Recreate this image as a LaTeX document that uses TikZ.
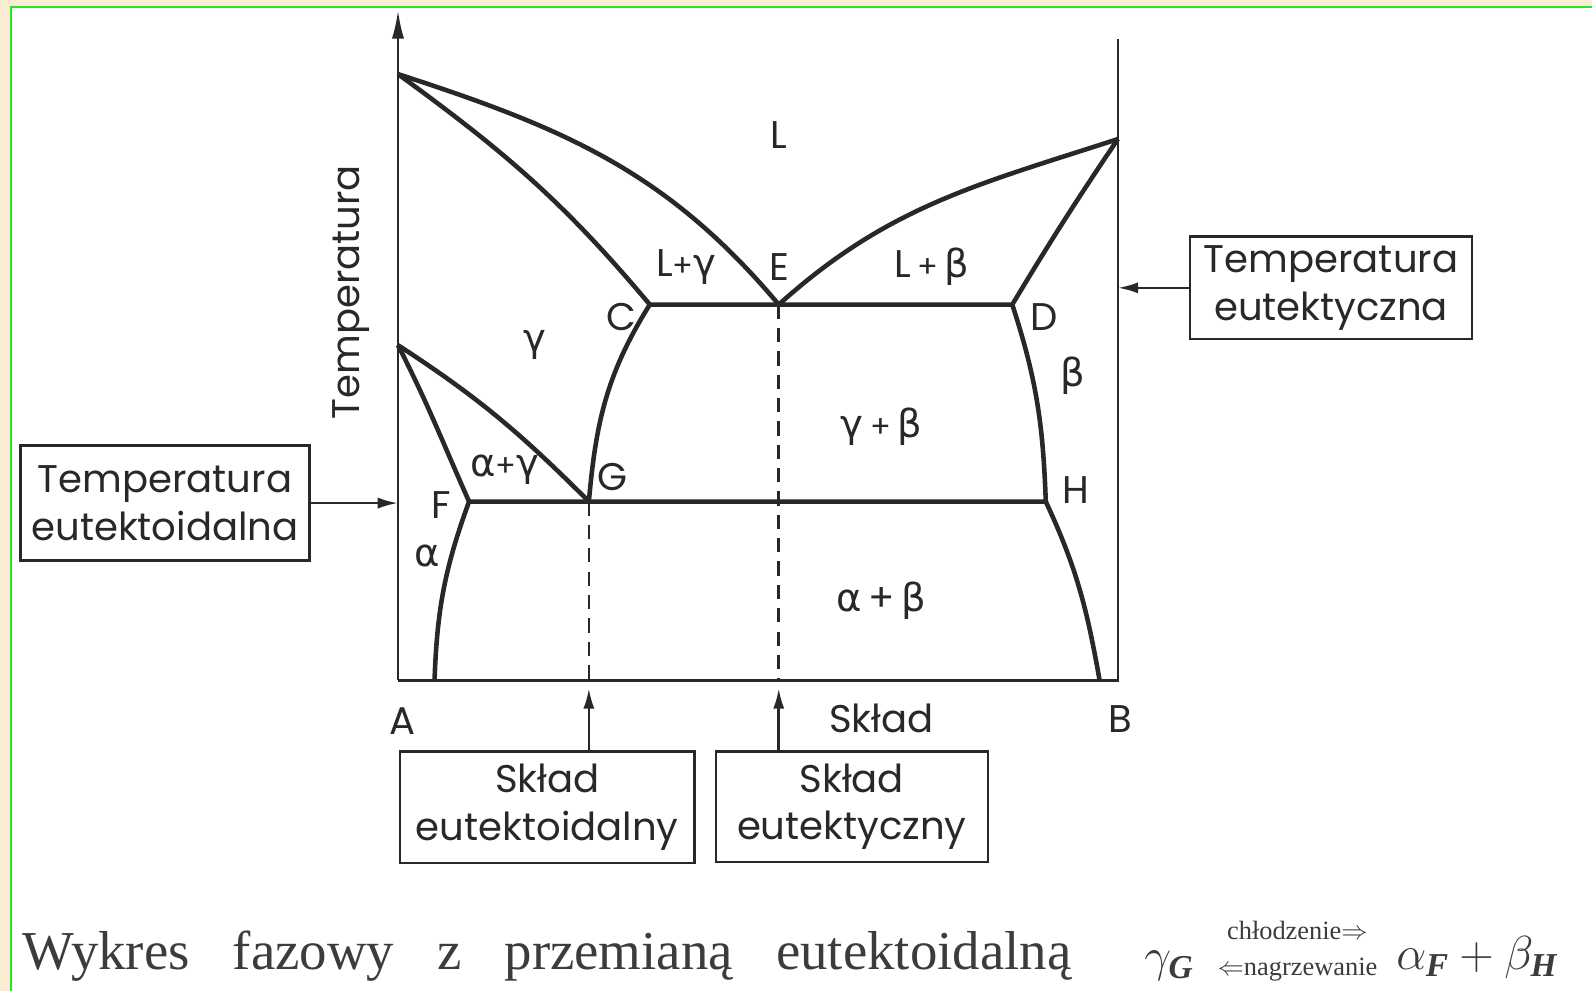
\RequirePackage{fix-cm}
\documentclass[tikz,border=0pt]{standalone}
\usepackage{amsmath}
\usepackage{fontspec}
\setmainfont{Liberation Serif}
\newfontfamily\techfont{Poppins}
\newfontfamily\grkfont{DejaVu Sans}
\usetikzlibrary{positioning,arrows.meta}
\definecolor{cink}{RGB}{40,40,40}
\definecolor{ccap}{RGB}{60,60,60}
\definecolor{cpaper}{RGB}{250,236,212}
\definecolor{cframe}{RGB}{30,235,30}
\newcommand{\gr}[1]{{\grkfont #1}}
\newcommand{\bsub}[1]{\text{\bfseries\itshape #1}}

\begin{document}
\begin{tikzpicture}[x=1pt,y=-1pt,
  font=\techfont\fontsize{38}{47}\selectfont,
  bnd/.style={cink,line width=4.5pt,line join=round},
  ax/.style={cink,line width=2.5pt},
  dsh/.style={cink,line width=2.5pt,dash pattern=on 14pt off 9pt},
  box/.style={draw=cink,line width=2.5pt,text=cink,align=center,inner sep=0pt},
  lab/.style={text=cink,inner sep=0pt},
  a/.style={-{Latex[length=20pt,width=11pt]},cink,line width=2.5pt},
  captext/.style={text=ccap,inner sep=0pt,font=\rmfamily\fontsize{54}{64}\selectfont},
  capmath/.style={text=ccap,inner sep=0pt,font=\rmfamily\fontsize{47}{56}\selectfont},
]
\useasboundingbox (0,0) rectangle (1568,976);
\fill[cpaper] (0,0) rectangle (1568,976);
\fill[white] (11,7) rectangle (1568,976);
\draw[cframe,line width=2.5pt] (11,976) |- (1568,7);

% --- key points of the diagram ---
\coordinate (tA) at (392,73);   \coordinate (tB) at (1101,137);
\coordinate (C) at (640,300);   \coordinate (E) at (767,300);  \coordinate (D) at (997,300);
\coordinate (tAg) at (392,340);
\coordinate (F) at (462,494);   \coordinate (G) at (580,494);  \coordinate (H) at (1030,494);
\coordinate (o) at (392,670);   \coordinate (bB) at (1101,670);
\coordinate (bF) at (428,670);  \coordinate (bH) at (1083,670);
\coordinate (ytop) at (392,10); \coordinate (rtop) at (1101,38);
\coordinate (gx) at (580,678);  \coordinate (ex) at (767,678);

% --- axes ---
\draw[ax] (rtop) -- (bB) -- (o);
\draw[ax,-{Latex[length=28pt,width=12pt]}] (o) -- (ytop);

% --- phase boundaries ---
\draw[bnd] (tA) to[out=-18,in=130] (E) to[out=42,in=198] (tB);
\draw[bnd] (tA) to[out=-36,in=130] (C) -- (D) to[out=59,in=-124] (tB);
\draw[bnd] (C) to[out=-122,in=85] (G);
\draw[bnd] (tAg) to[out=-33,in=135] (G);
\draw[bnd] (tAg) to[out=-63,in=114] (F) -- (H);
\draw[bnd] (F) to[out=-110,in=88] (bF);
\draw[bnd] (D) to[out=-72,in=92] (H) to[out=-65,in=100] (bH);
\draw[dsh] (G) -- (G |- o);
\draw[dsh] (E) -- (E |- o);

% --- phase labels ---
\node[lab] (lL) at (767,133) {L};
\node[lab] (lLg) at (676,263) {L{\fontsize{30}{30}\selectfont+}\gr{γ}};
\node[lab] (lE) at (768,263) {E};
\node[lab] (lLb) at (918,263) {L\,{\fontsize{30}{30}\selectfont+}\,\gr{β}};
\node[lab] (lC) at (612,312) {C};
\node[lab] (lD) at (1028,312) {D};
\node[lab] (lg) at (527,340) {\gr{γ}};
\node[lab] (lb) at (1057,370) {\gr{β}};
\node[lab] (lgb) at (868,420) {\gr{γ}\,{\fontsize{30}{30}\selectfont+}\,\gr{β}};
\node[lab] (lag) at (497,463) {\gr{α}{\fontsize{30}{30}\selectfont+}\gr{γ}};
\node[lab] (lG) at (603,470) {G};
\node[lab] (lF) at (435,497) {F};
\node[lab] (lH) at (1060,483) {H};
\node[lab] (la) at (421,548) {\gr{α}};
\node[lab] (lab) at (868,592) {\gr{α}\,+\,\gr{β}};
\node[lab] (lA) at (396,710) {A};
\node[lab] (lx) at (868,708) {Skład};
\node[lab] (lB) at (1103,708) {B};
\node[lab,rotate=90] (ly) at (346,288) {Temperatura};

% --- boxes with arrows ---
\node[box,minimum width=285pt,minimum height=113pt] (tEd) at (162.5,495.5) {Temperatura\\eutektoidalna};
\node[box,minimum width=278pt,minimum height=101pt] (tEc) at (1311,283.5) {Temperatura\\eutektyczna};
\node[box,minimum width=290pt,minimum height=110pt] (sEd) at (539,795) {Skład\\eutektoidalny};
\node[box,minimum width=268pt,minimum height=109pt] (sEc) at (839,794.5) {Skład\\eutektyczny};
\draw[a] (tEd.east) -- (tEd.east -| o);
\draw[a] (tEc.west) -- (tEc.west -| bB);
\draw[a] (sEd.north -| gx) -- (gx);
\draw[a] (sEc.north -| ex) -- (ex);

% --- caption ---
\node[captext,anchor=base west] (capt) at (22,955) {\makebox[1033pt][s]{Wykres fazowy z przemianą eutektoidalną}};
\node[capmath,anchor=base west] (capg) at (1127,957) {$\gamma_{\bsub{G}}$};
\node[captext,anchor=west,align=center,font=\rmfamily\fontsize{26}{35}\selectfont] (capr) at (1199,937) {chłodzenie$\Rightarrow$\\$\Leftarrow$nagrzewanie};
\node[capmath,anchor=base west] (capab) at (1375,955) {$\alpha_{\bsub{F}}+\beta_{\bsub{H}}$};
\end{tikzpicture}
\end{document}
